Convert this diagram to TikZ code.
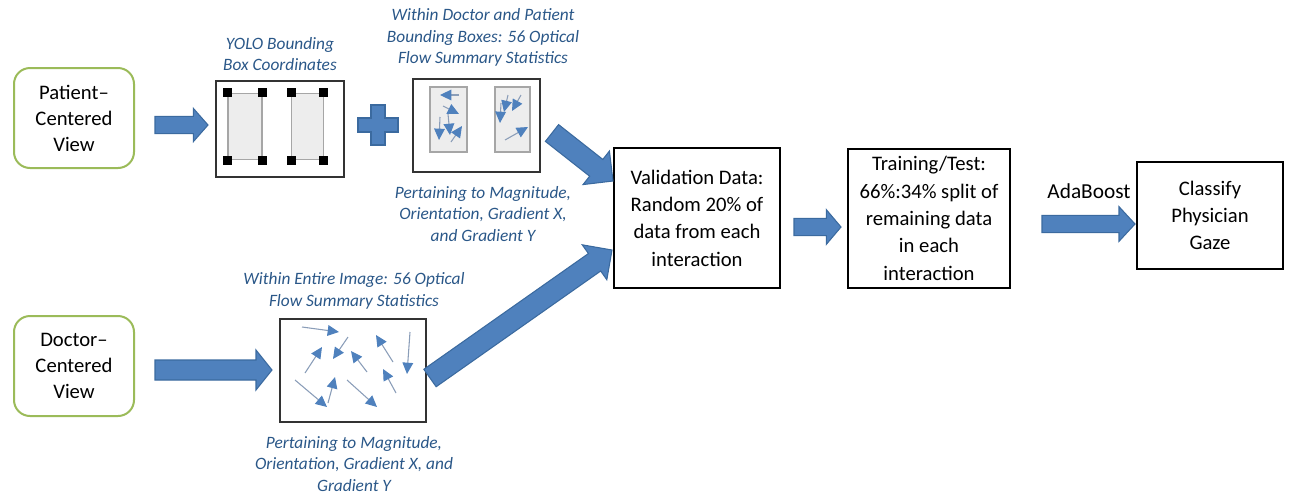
\documentclass[tikz,border=0pt]{standalone}
\usepackage{fontspec}
\setmainfont{Carlito}
\usetikzlibrary{calc,arrows.meta}
\definecolor{ablue}{HTML}{4F81BD}
\definecolor{ablueD}{HTML}{3B6A9F}
\definecolor{lblue}{HTML}{2A5788}
\definecolor{gbox}{HTML}{9BBB59}
\definecolor{shaft}{HTML}{8A9DB8}
\tikzset{
 view/.style={draw=gbox, line width=1.5pt, rounded corners=12pt, minimum width=90pt, minimum height=75pt, align=center, font=\fontsize{15.5}{19.5}\selectfont, inner sep=0pt},
 stage/.style={draw=black, line width=2.2pt, align=center, font=\fontsize{15.5}{20.5}\selectfont, inner sep=0pt},
 picbox/.style={draw=black!80, line width=1.6pt, inner sep=0pt},
 inbox/.style={draw=black!35, fill=black!7, line width=0.9pt, inner sep=0pt},
 lab/.style={text=lblue, align=center, font=\itshape\fontsize{13}{16.2}\selectfont, inner sep=0pt},
 barrow/.style={fill=ablue, draw=ablueD, line width=0.8pt, line join=miter},
 flow/.style={draw=shaft, line width=0.8pt, -{Triangle[length=8.5pt,width=8pt,color=ablue]}},
 corner/.style={fill=black, minimum size=6.5pt, inner sep=0pt},
}
\newcommand{\blockarrow}[5]{%
 \coordinate (tmpH) at ($(#2)!#5!(#1)$);
 \path[barrow] ($(#1)!#3!90:(#2)$) -- ($(tmpH)!#3!90:(#2)$) -- ($(tmpH)!#4!90:(#2)$) -- (#2)
   -- ($(tmpH)!#4!-90:(#2)$) -- ($(tmpH)!#3!-90:(#2)$) -- ($(#1)!#3!-90:(#2)$) -- cycle;}
\begin{document}
\begin{tikzpicture}[x=0.75pt,y=-0.75pt]
\useasboundingbox (0,0) rectangle (1289,497);
% view boxes
\node[view] (patient) at (74,118) {Patient--\\Centered\\View};
\node[view] (doctor) at (74,366) {Doctor--\\Centered\\View};
% YOLO box
\node[picbox, minimum width=96pt, minimum height=72pt] (yolo) at (280,129) {};
\node[lab] (yololab) at (280,54) {YOLO Bounding\\Box Coordinates};
\node[inbox, minimum width=25.5pt, minimum height=50pt] (yb1) at (245,126.5) {};
\node[inbox, minimum width=23.5pt, minimum height=50pt] (yb2) at (307.5,126.5) {};
\foreach \b in {yb1,yb2}{
  \foreach \c in {north west,north east,south west,south east}{
    \node[corner] at (\b.\c) {};
  }
}
% plus sign
\path[barrow] (371,105) -- (385,105) -- (385,118) -- (398,118) -- (398,132) -- (385,132) -- (385,145) -- (371,145) -- (371,132) -- (358,132) -- (358,118) -- (371,118) -- cycle;
% optical flow box 1
\node[picbox, minimum width=95.25pt, minimum height=69.75pt] (of1) at (476.5,125.5) {};
\node[inbox, minimum width=27.75pt, minimum height=48.75pt] (of1a) at (448.5,119.5) {};
\node[inbox, minimum width=26.25pt, minimum height=48.75pt] (of1b) at (512.5,119.5) {};
\node[lab] (of1top) at (483,37.5) {Within Doctor and Patient\\Bounding Boxes: 56 Optical\\Flow Summary Statistics};
\node[lab] (of1bot) at (483,214) {Pertaining to Magnitude,\\Orientation, Gradient X,\\and Gradient Y};
\draw[flow] (459,95) -- (440,95);
\draw[flow] (443,106) -- (459,114);
\draw[flow] (448,114) -- (450,135);
\draw[flow] (440,117) -- (439,140);
\draw[flow] (451,142) -- (462,126);
\draw[flow] (508,95) -- (504,112);
\draw[flow] (501,103) -- (500,123);
\draw[flow] (521,95) -- (512,111);
\draw[flow] (505,140) -- (528,127);
% optical flow box 2
\node[picbox, minimum width=109.5pt, minimum height=77.25pt] (of2) at (353,370.5) {};
\node[lab] (of2top) at (354,291) {Within Entire Image: 56 Optical\\Flow Summary Statistics};
\node[lab] (of2bot) at (354,464) {Pertaining to Magnitude,\\Orientation, Gradient X, and\\Gradient Y};
\draw[flow] (302,327) -- (339,332);
\draw[flow] (348,337) -- (333,359);
\draw[flow] (393,362) -- (376,335);
\draw[flow] (410,332) -- (407,374);
\draw[flow] (305,373) -- (322,347);
\draw[flow] (367,372) -- (351,351);
\draw[flow] (396,393) -- (383,369);
\draw[flow] (295,380) -- (327,407);
\draw[flow] (328,403) -- (335,377);
\draw[flow] (347,380) -- (377,407);
% stage boxes
\node[stage, minimum width=124.5pt, minimum height=105pt] (valid) at (697,218) {Validation Data:\\Random 20\% of\\data from each\\interaction};
\node[stage, minimum width=121.5pt, minimum height=104.25pt] (train) at (929,218.5) {Training/Test:\\66\%:34\% split of\\remaining data\\in each\\interaction};
\node[stage, minimum width=109.5pt, minimum height=80.25pt] (classify) at (1210,215.5) {Classify\\Physician\\Gaze};
\node[font=\fontsize{16}{19}\selectfont, inner sep=0pt] (ada) at (1089,191) {AdaBoost};
% connector end points
\coordinate (p1s) at (155,125); \coordinate (p1e) at (208,125);
\coordinate (d1s) at (155,370); \coordinate (d1e) at (272,370);
\coordinate (pas) at (552,133); \coordinate (pae) at (613,181);
\coordinate (das) at (430,378); \coordinate (dae) at (612,250);
\coordinate (vts) at (794,227); \coordinate (vte) at (841,227);
\coordinate (abs) at (1042,224); \coordinate (abe) at (1135,224);
\blockarrow{p1s}{p1e}{6.5pt}{12.5pt}{11pt}
\blockarrow{d1s}{d1e}{7.5pt}{15pt}{12pt}
\blockarrow{pas}{pae}{8pt}{16pt}{16pt}
\blockarrow{das}{dae}{8pt}{16pt}{16pt}
\blockarrow{vts}{vte}{6.5pt}{13pt}{11pt}
\blockarrow{abs}{abe}{6.5pt}{13pt}{12pt}
\end{tikzpicture}
\end{document}
